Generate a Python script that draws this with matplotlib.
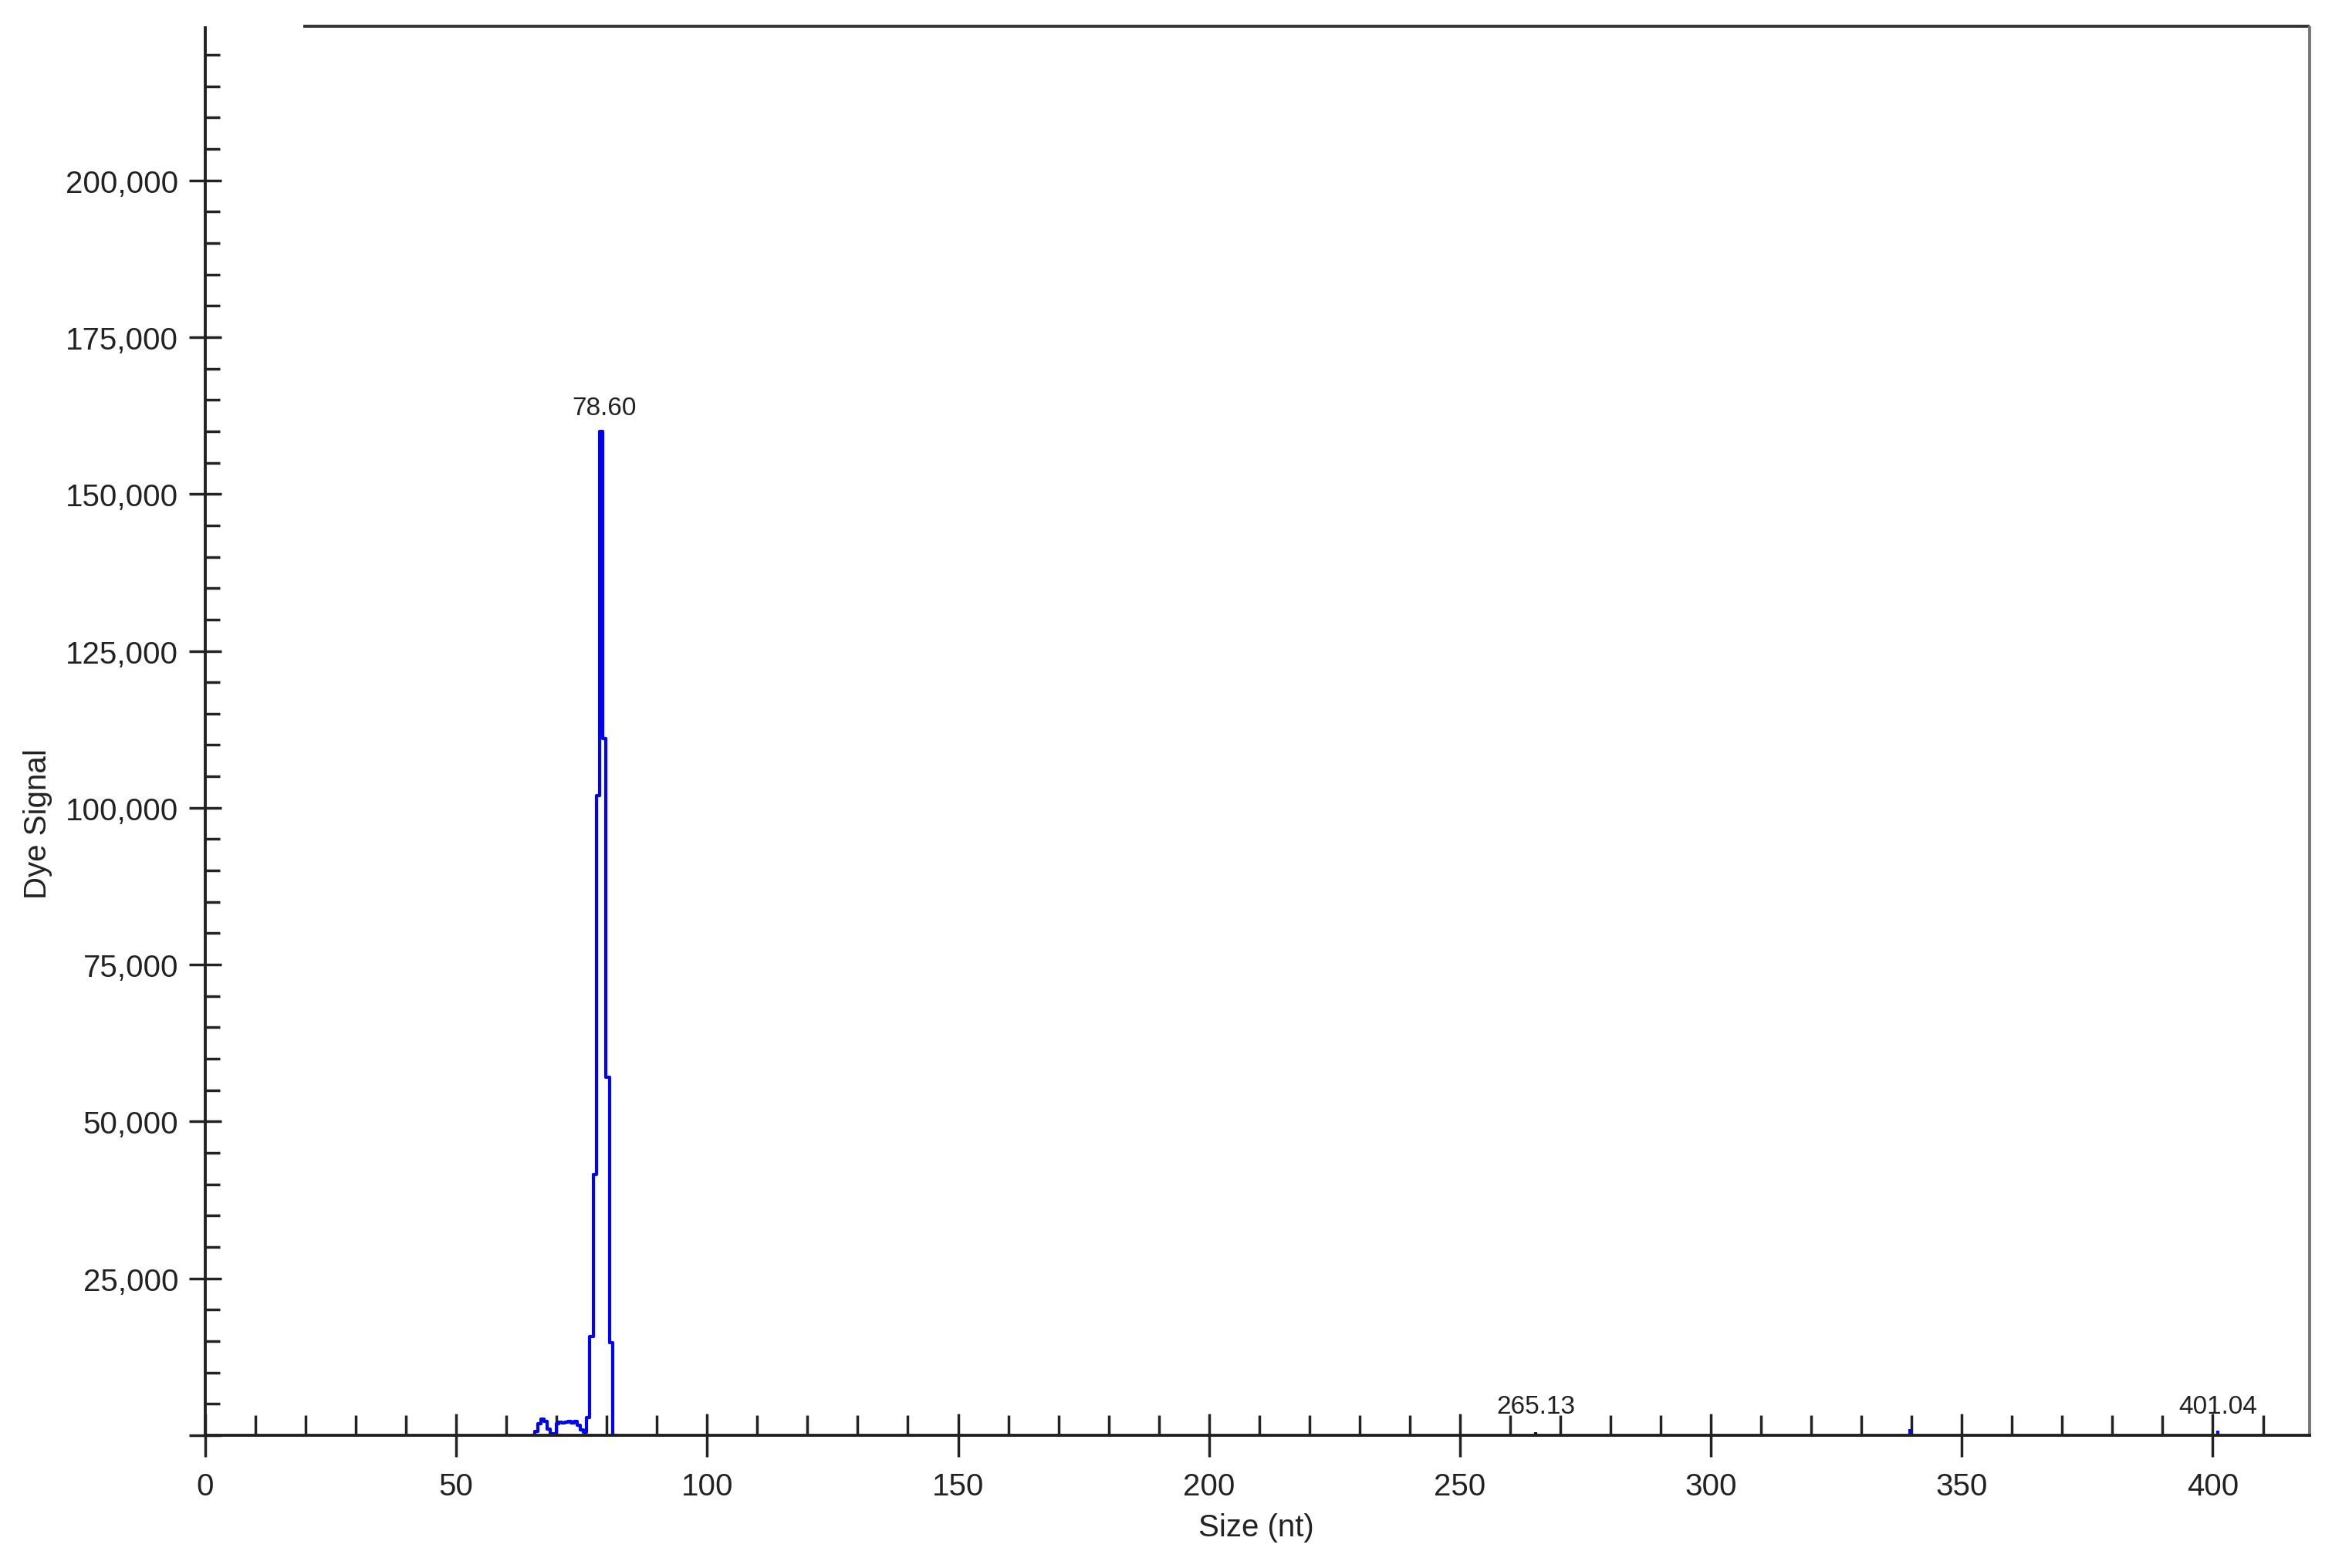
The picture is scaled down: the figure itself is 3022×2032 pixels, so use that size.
import numpy as np
import matplotlib
matplotlib.use("Agg")
import matplotlib.pyplot as plt
from matplotlib.ticker import MultipleLocator, FuncFormatter

plt.rcParams['font.family'] = ['Liberation Sans', 'DejaVu Sans']

# blue dye trace around the main peak (size in nt, signal)
size_nt = [65.4, 66.0, 66.6, 67.2, 67.8, 68.4, 69.0, 69.6, 70.2, 70.8,
           71.4, 72.0, 72.6, 73.2, 73.8, 74.4, 75.0, 75.6, 76.2, 77.1,
           77.65, 78.2, 78.85, 79.55, 80.2, 80.9, 81.6]
signal = [0, 600, 1800, 2600, 2200, 1000, 200, 300, 1800, 2100,
          2000, 2100, 2200, 2000, 2200, 1600, 900, 500, 2800, 15700,
          41600, 102000, 160000, 111000, 57000, 14700, 0]

# tiny called peaks near the baseline
small_sizes = [265.13, 339.6, 401.04]
small_heights = [500, 1000, 700]
small_colors = ['#111111', '#0000ff', '#0000ff']

# peak size labels
peak_labels = ['78.60', '265.13', '401.04']
peak_label_x = [78.85, 265.13, 401.04]
peak_label_y = [160000, 0, 0]

fig = plt.figure(figsize=(30.22, 20.33), dpi=100)
ax = fig.add_axes([0.0880, 0.0846, 0.9024, 0.8972])

ax.plot(size_nt, signal, color='#0000ff', lw=3, drawstyle='steps-mid')
ax.vlines(small_sizes, 0, small_heights, colors=small_colors, lw=3)

for lab, lx, ly in zip(peak_labels, peak_label_x, peak_label_y):
    off = 22 if ly > 0 else 27
    ax.annotate(lab, xy=(lx, ly), xytext=(3 if ly > 0 else 0, off),
                textcoords='offset points', ha='center', va='center',
                fontsize=24, color='#222222')

ax.set_xlim(0, 419.3)
ax.set_ylim(0, 224300)

ax.xaxis.set_major_locator(MultipleLocator(50))
ax.xaxis.set_minor_locator(MultipleLocator(10))
ax.yaxis.set_major_locator(MultipleLocator(25000))
ax.yaxis.set_minor_locator(MultipleLocator(5000))
ax.yaxis.set_major_formatter(FuncFormatter(lambda v, p: '' if v == 0 else f'{v:,.0f}'))

ax.tick_params(axis='x', which='major', direction='inout', length=40, width=2.5,
               pad=14, labelsize=29, color='#222222', labelcolor='#222222')
ax.tick_params(axis='x', which='minor', direction='in', length=19, width=2.5,
               color='#222222')
ax.tick_params(axis='y', which='major', direction='inout', length=30, width=2.5,
               pad=10, labelsize=29, color='#222222', labelcolor='#222222')
ax.tick_params(axis='y', which='minor', direction='in', length=14, width=2.5,
               color='#222222')

for s in ['left', 'bottom']:
    ax.spines[s].set_linewidth(2.8)
    ax.spines[s].set_color('#222222')
ax.spines['right'].set_linewidth(2.8)
ax.spines['right'].set_color('#777777')
ax.spines['top'].set_visible(False)
ax.plot([0.0466, 1.0], [1.001, 1.001], transform=ax.transAxes,
        color='#333333', lw=2.8, clip_on=False, solid_capstyle='butt')

ax.set_xlabel('Size (nt)', fontsize=29, color='#222222')
ax.set_ylabel('Dye Signal', fontsize=29, color='#222222')
ax.xaxis.set_label_coords(0.4995, -0.055)
ax.yaxis.set_label_coords(-0.0726, 0.435)

fig.savefig('out.png', dpi=100)
